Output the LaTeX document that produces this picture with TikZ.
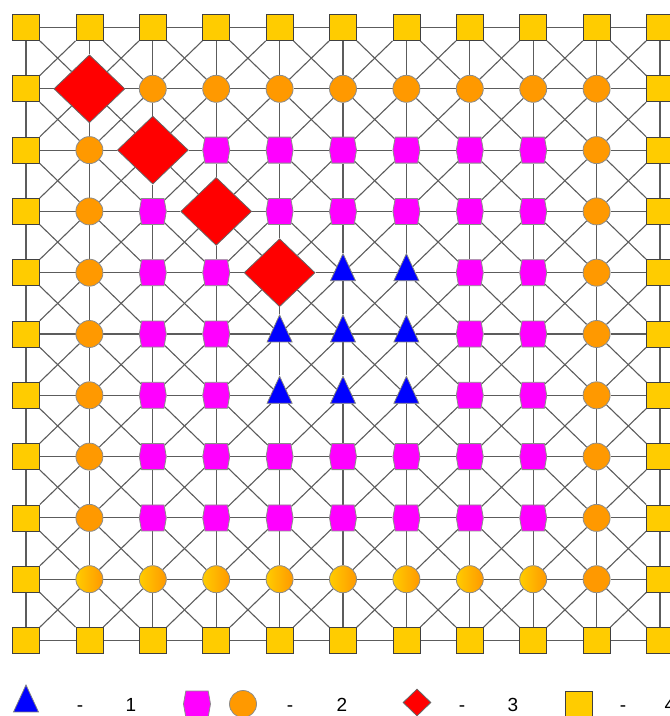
\documentclass[tikz,border=0pt]{standalone}
\usepackage{fontspec}
\setmainfont{Liberation Sans}
\usepackage{tikz}
\usetikzlibrary{shapes.geometric,shapes.symbols,backgrounds}
\definecolor{sqyellow}{HTML}{FFCC00}
\definecolor{ringorange}{HTML}{FF9900}
\definecolor{coremagenta}{HTML}{FF00FF}
\definecolor{diagred}{HTML}{FF0000}
\definecolor{triblue}{HTML}{0000FF}
\definecolor{linkgray}{HTML}{5C5C5C}

\begin{document}
\begin{tikzpicture}[
    x=1pt, y=-1pt,
    sqnode/.style={rectangle, draw=black!75, line width=0.8pt, fill=sqyellow, inner sep=0pt, minimum width=27pt, minimum height=26pt},
    ornode/.style={circle, draw=black!45, line width=0.8pt, fill=ringorange, inner sep=0pt, minimum size=27pt},
    grnode/.style={ornode, left color=sqyellow, right color=ringorange},
    mgnode/.style={signal, signal to=east and west, signal pointer angle=160, draw=black!45, line width=0.8pt, fill=coremagenta, inner sep=0pt, minimum width=27pt, minimum height=26pt},
    rdnode/.style={diamond, draw=black!60, line width=0.8pt, fill=diagred, inner sep=0pt, minimum width=71pt, minimum height=68pt},
    trnode/.style={isosceles triangle, shape border rotate=90, isosceles triangle stretches, draw=black!50, line width=0.8pt, fill=triblue, inner sep=0pt, minimum width=25pt, minimum height=27pt},
    link/.style={draw=linkgray, line width=1.1pt},
    legtext/.style={anchor=base, inner sep=0pt, font=\fontsize{19}{22}\selectfont}
]
\useasboundingbox (0,0) rectangle (670,716);

% Grid nodes
\foreach \r in {0,...,10}{
  \foreach \c in {0,...,10}{
    \pgfmathtruncatemacro\ring{min(min(\r,\c),min(10-\r,10-\c))}
    \ifnum\ring=0 \def\kind{sqnode}\fi
    \ifnum\ring=1 \def\kind{ornode}\fi
    \ifnum\ring>1 \def\kind{mgnode}\fi
    \ifnum\r=9 \ifnum\c>0 \ifnum\c<9 \def\kind{grnode}\fi\fi\fi
    \ifnum\r>3 \ifnum\r<7 \ifnum\c>3 \ifnum\c<7 \def\kind{trnode}\fi\fi\fi\fi
    \ifnum\r=\c \ifnum\r>0 \ifnum\r<5 \def\kind{rdnode}\fi\fi\fi
    \node[\kind] (n-\r-\c) at ({26+63.4*\c},{27.5+61.3*\r}) {};
  }
}

% Links
\begin{scope}[on background layer]
\foreach \r in {0,...,10}{
  \foreach \c in {0,...,9}{
    \pgfmathtruncatemacro\nc{\c+1}
    \draw[link] (n-\r-\c) -- (n-\r-\nc);
    \draw[link] (n-\c-\r) -- (n-\nc-\r);
  }
}
\foreach \r in {0,...,9}{
  \foreach \c in {0,...,9}{
    \pgfmathtruncatemacro\nr{\r+1}
    \pgfmathtruncatemacro\nc{\c+1}
    \draw[link] (n-\r-\c) -- (n-\nr-\nc);
    \draw[link] (n-\r-\nc) -- (n-\nr-\c);
  }
}
\end{scope}

% Legend
\node[trnode] (leg-tri) at (26,704) {};
\node[legtext] (leg-d1) at (80,711.5) {-};
\node[legtext] (leg-t1) at (131,711.5) {1};
\node[mgnode] (leg-hex) at (197,704) {};
\node[ornode] (leg-circ) at (243,704) {};
\node[legtext] (leg-d2) at (290,711.5) {-};
\node[legtext] (leg-t2) at (342,711.5) {2};
\node[rdnode, minimum width=28pt, minimum height=27pt] (leg-dia) at (417,702.5) {};
\node[legtext] (leg-d3) at (462,711.5) {-};
\node[legtext] (leg-t3) at (513,711.5) {3};
\node[sqnode] (leg-sq) at (579,704) {};
\node[legtext] (leg-d4) at (623,711.5) {-};
\node[legtext] (leg-t4) at (670,711.5) {4};

\end{tikzpicture}
\end{document}
